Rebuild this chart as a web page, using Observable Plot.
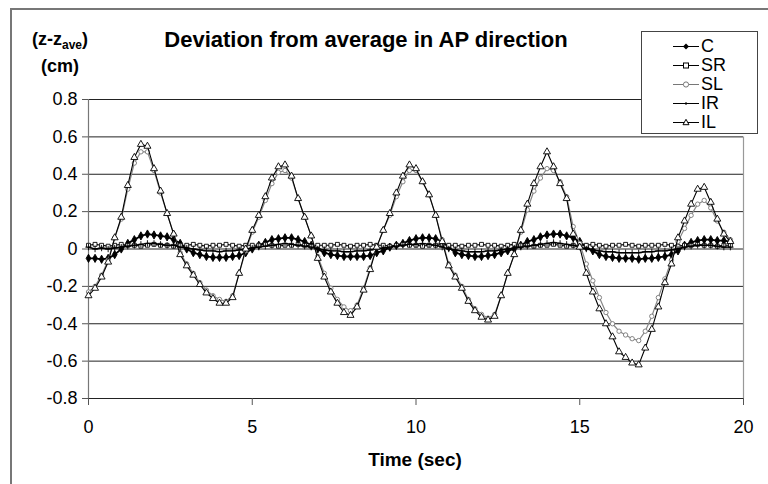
<!DOCTYPE html>
<html><head><meta charset="utf-8">
<script src="https://cdn.jsdelivr.net/npm/d3@7"></script>
<script src="https://cdn.jsdelivr.net/npm/@observablehq/plot@0.6"></script>
<style>
body{margin:0;background:#fff;overflow:hidden;font-family:"Liberation Sans",Arial,sans-serif;color:#000;}
#wrap{position:relative;width:768px;height:484px;overflow:hidden;}
#frame{position:absolute;left:10px;top:8px;width:800px;height:520px;border-left:2px solid #777;border-top:2px solid #777;}
#chart{position:absolute;left:0;top:0;}
.title{position:absolute;left:366px;top:29px;transform:translateX(-50%);font-weight:bold;font-size:22px;line-height:22px;white-space:nowrap;}
.ylab{position:absolute;left:60px;transform:translateX(-50%);font-weight:bold;font-size:18px;line-height:18px;white-space:nowrap;}
.ylab sub{font-size:12px;vertical-align:-4px;line-height:0;}
.xlab{position:absolute;left:415px;top:450px;transform:translateX(-50%);font-weight:bold;font-size:19px;line-height:19px;white-space:nowrap;}
#legend{position:absolute;left:641px;top:31px;width:115px;height:101px;border:1px solid #444;background:#fff;}
.lrow{position:absolute;left:0;height:19px;width:115px;}
.lrow svg{position:absolute;left:31px;top:0;}
.lrow span{position:absolute;left:59px;top:0;font-size:18px;line-height:19px;}
</style>
</head><body>
<div id="wrap">
<div id="frame"></div>
<div id="chart"></div>
<div class="title">Deviation from average in AP direction</div>
<div class="ylab" style="top:30px">(z-z<sub>ave</sub>)</div>
<div class="ylab" style="top:57px">(cm)</div>
<div class="xlab">Time (sec)</div>
<div id="legend"></div>
</div>
<script>
const time = [0,0.2,0.4,0.6,0.8,1.0,1.2,1.4,1.6,1.8,
2.0,2.2,2.4,2.6,2.8,3.0,3.2,3.4,3.6,3.8,
4.0,4.2,4.4,4.6,4.8,5.0,5.2,5.4,5.6,5.8,
6.0,6.2,6.4,6.6,6.8,7.0,7.2,7.4,7.6,7.8,
8.0,8.2,8.4,8.6,8.8,9.0,9.2,9.4,9.6,9.8,
10.0,10.2,10.4,10.6,10.8,11.0,11.2,11.4,11.6,11.8,
12.0,12.2,12.4,12.6,12.8,13.0,13.2,13.4,13.6,13.8,
14.0,14.2,14.4,14.6,14.8,15.0,15.2,15.4,15.6,15.8,
16.0,16.2,16.4,16.6,16.8,17.0,17.2,17.4,17.6,17.8,
18.0,18.2,18.4,18.6,18.8,19.0,19.2,19.4,19.6];

const C = [-0.05,-0.05,-0.055,-0.05,-0.03,0.0,0.03,0.05,0.07,0.08,
0.075,0.07,0.065,0.05,0.03,0.0,-0.02,-0.03,-0.04,-0.045,
-0.045,-0.045,-0.04,-0.035,-0.02,0.0,0.02,0.035,0.05,0.055,
0.06,0.06,0.05,0.04,0.02,0.0,-0.02,-0.03,-0.035,-0.04,
-0.04,-0.04,-0.04,-0.035,-0.02,-0.01,0.01,0.02,0.03,0.045,
0.055,0.06,0.06,0.055,0.04,0.01,-0.02,-0.03,-0.035,-0.04,
-0.04,-0.035,-0.03,-0.02,-0.01,0.0,0.02,0.04,0.05,0.065,
0.075,0.08,0.08,0.07,0.06,0.04,0.01,-0.01,-0.03,-0.04,
-0.045,-0.05,-0.05,-0.05,-0.055,-0.05,-0.05,-0.045,-0.04,-0.03,
-0.01,0.02,0.035,0.045,0.05,0.05,0.045,0.045,0.04];

const SR = [0.02,0.025,0.02,0.015,0.02,0.025,0.02,0.02,0.015,0.02,
0.025,0.02,0.02,0.015,0.02,0.02,0.025,0.02,0.015,0.02,
0.02,0.025,0.02,0.015,0.02,0.02,0.02,0.025,0.02,0.015,
0.02,0.02,0.025,0.02,0.015,0.02,0.02,0.02,0.025,0.02,
0.015,0.02,0.02,0.025,0.02,0.02,0.015,0.02,0.025,0.02,
0.02,0.015,0.02,0.02,0.025,0.02,0.02,0.015,0.02,0.02,
0.025,0.02,0.02,0.015,0.02,0.025,0.02,0.02,0.015,0.02,
0.02,0.025,0.02,0.015,0.02,0.02,0.02,0.025,0.02,0.015,
0.02,0.02,0.025,0.02,0.015,0.02,0.02,0.02,0.025,0.02,
0.015,0.02,0.02,0.025,0.02,0.02,0.015,0.02,0.02];

const SL = [-0.23,-0.20,-0.14,-0.06,0.06,0.16,0.32,0.46,0.52,0.52,
0.42,0.30,0.19,0.08,-0.02,-0.08,-0.13,-0.18,-0.22,-0.25,
-0.27,-0.28,-0.25,-0.13,-0.01,0.09,0.17,0.26,0.35,0.41,
0.42,0.38,0.27,0.17,0.07,-0.04,-0.13,-0.21,-0.27,-0.31,
-0.33,-0.30,-0.21,-0.10,0.01,0.10,0.18,0.28,0.36,0.42,
0.42,0.36,0.29,0.18,0.05,-0.08,-0.14,-0.20,-0.27,-0.32,
-0.35,-0.37,-0.35,-0.25,-0.13,-0.03,0.09,0.21,0.31,0.38,
0.43,0.42,0.36,0.28,0.12,0.03,-0.08,-0.17,-0.26,-0.34,
-0.40,-0.44,-0.46,-0.48,-0.49,-0.44,-0.36,-0.26,-0.16,-0.06,
0.04,0.11,0.18,0.24,0.26,0.22,0.15,0.09,0.05];

const IR = [0.01,0.0,0.005,0.0,0.005,0.01,0.015,0.02,0.025,0.03,
0.03,0.025,0.02,0.02,0.01,0.005,0.0,-0.005,-0.01,-0.01,
-0.015,-0.01,-0.01,-0.005,0.0,0.005,0.01,0.015,0.02,0.025,
0.03,0.025,0.02,0.015,0.01,0.0,-0.005,-0.01,-0.01,-0.015,
-0.015,-0.01,-0.01,-0.005,0.0,0.005,0.01,0.015,0.02,0.025,
0.025,0.03,0.025,0.02,0.01,0.0,-0.005,-0.01,-0.015,-0.015,
-0.015,-0.01,-0.01,-0.005,0.0,0.005,0.01,0.015,0.02,0.025,
0.03,0.035,0.03,0.025,0.02,0.01,0.0,-0.005,-0.01,-0.015,
-0.015,-0.02,-0.02,-0.02,-0.02,-0.015,-0.015,-0.01,-0.01,-0.005,
0.0,0.01,0.015,0.02,0.02,0.02,0.015,0.01,0.01];

const IL = [-0.25,-0.21,-0.15,-0.07,0.06,0.17,0.34,0.49,0.56,0.55,
0.43,0.31,0.19,0.08,-0.03,-0.09,-0.14,-0.19,-0.235,-0.265,
-0.29,-0.29,-0.26,-0.13,0.0,0.1,0.18,0.28,0.38,0.44,
0.45,0.39,0.27,0.17,0.07,-0.05,-0.15,-0.23,-0.29,-0.34,
-0.355,-0.31,-0.22,-0.11,0.01,0.10,0.19,0.30,0.39,0.45,
0.43,0.36,0.29,0.18,0.04,-0.09,-0.15,-0.21,-0.28,-0.33,
-0.365,-0.38,-0.36,-0.25,-0.13,-0.03,0.10,0.24,0.35,0.44,
0.52,0.44,0.35,0.27,0.08,0.01,-0.13,-0.23,-0.32,-0.40,
-0.47,-0.55,-0.58,-0.61,-0.62,-0.53,-0.43,-0.31,-0.18,-0.08,
0.06,0.15,0.24,0.32,0.33,0.25,0.16,0.08,0.04];

const seriesNames = ["C","SR","SL","IR","IL"];
const yTicks = [-0.8,-0.6,-0.4,-0.2,0,0.2,0.4,0.6,0.8];
const xTicks = [0,5,10,15,20];

const valuesBy = {C, SR, SL, IR, IL};
const styles = {
  C:  {line:"#000", lw:1.8, symbol:"diamond", fill:"#000", stroke:"#000", r:2.5},
  SR: {line:"#000", lw:1.2, symbol:"square", fill:"#fff", stroke:"#000", r:2.2},
  SL: {line:"#888", lw:1.2, symbol:"circle", fill:"#fff", stroke:"#777", r:2.2},
  IR: {line:"#000", lw:1.4, symbol:"plus", fill:"none", stroke:"#000", r:2.2},
  IL: {line:"#000", lw:1.1, symbol:"triangle", fill:"#fff", stroke:"#000", r:2.6}
};

const rows = s => time.map((t,i) => ({t, v: valuesBy[s][i], s}));

const marks = [
  Plot.ruleY(yTicks, {stroke:"#222", strokeWidth:1}),
  Plot.ruleX([0], {stroke:"#777", strokeWidth:1.2}),
  Plot.ruleX([20], {y1:-0.8, y2:0.6, stroke:"#999", strokeWidth:1.2}),
  Plot.axisY({ticks:yTicks, tickSize:6, tickPadding:5, tickFormat:d => d===0 ? "0" : d.toFixed(1), label:null, stroke:"#555"}),
  Plot.axisX({ticks:xTicks, tickSize:7, tickPadding:15, tickFormat:d => String(d), label:null, stroke:"#555"})
];
for (const s of seriesNames) {
  const st = styles[s];
  const d = rows(s);
  marks.push(Plot.line(d, {x:"t", y:"v", stroke:st.line, strokeWidth:st.lw}));
  marks.push(Plot.dot(d, {x:"t", y:"v", symbol:() => st.symbol, r:st.r, fill:st.fill, stroke:st.stroke, strokeWidth:0.9}));
}

const chart = Plot.plot({
  width:768, height:484,
  marginLeft:88, marginRight:25, marginTop:99, marginBottom:86,
  style:{fontSize:"18px", fontFamily:"'Liberation Sans', Arial, sans-serif", color:"#000", background:"transparent"},
  x:{domain:[0,20]},
  y:{domain:[-0.8,0.8]},
  symbol:{type:"identity"},
  marks
});
document.getElementById("chart").appendChild(chart);

// legend
const legend = document.getElementById("legend");
const centers = [14,33,52,71,90];
seriesNames.forEach((s,i) => {
  const st = styles[s];
  const row = document.createElement("div");
  row.className = "lrow";
  row.style.top = (centers[i]-9.5) + "px";
  let mk = "";
  if (st.symbol === "diamond") mk = `<path d="M13,6.5 L16,9.5 L13,12.5 L10,9.5 Z" fill="#000"/>`;
  else if (st.symbol === "square") mk = `<rect x="10.5" y="7" width="5" height="5" fill="#fff" stroke="#000" stroke-width="1"/>`;
  else if (st.symbol === "circle") mk = `<circle cx="13" cy="9.5" r="2.6" fill="#fff" stroke="#777" stroke-width="1"/>`;
  else if (st.symbol === "plus") mk = `<path d="M11,9.5 H15 M13,8 V11" stroke="#000" stroke-width="1"/>`;
  else mk = `<path d="M13,6.3 L16,11.7 L10,11.7 Z" fill="#fff" stroke="#000" stroke-width="1"/>`;
  row.innerHTML = `<svg width="26" height="19"><line x1="0" x2="26" y1="9.5" y2="9.5" stroke="${st.line==='#888'?'#777':'#000'}" stroke-width="1"/>${mk}</svg><span>${s}</span>`;
  legend.appendChild(row);
});
</script>
</body></html>
